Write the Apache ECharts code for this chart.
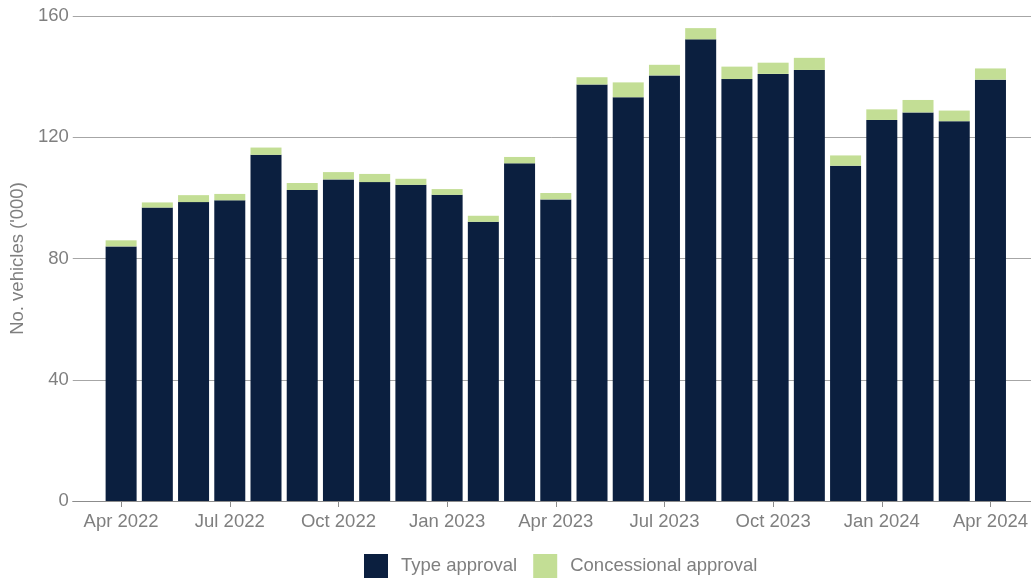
<!DOCTYPE html>
<html>
<head>
<meta charset="utf-8">
<script src="https://cdn.jsdelivr.net/npm/echarts@6/dist/echarts.min.js"></script>
<style>
html,body{margin:0;padding:0;background:#fff;}
#chart{width:1031px;height:578px;}
</style>
</head>
<body>
<div id="chart"></div>
<script>
const categories = ["Apr 2022","May 2022","Jun 2022","Jul 2022","Aug 2022","Sep 2022","Oct 2022","Nov 2022","Dec 2022",
  "Jan 2023","Feb 2023","Mar 2023","Apr 2023","May 2023","Jun 2023","Jul 2023","Aug 2023","Sep 2023","Oct 2023","Nov 2023","Dec 2023",
  "Jan 2024","Feb 2024","Mar 2024","Apr 2024"];
const typeApproval = [84.0,96.8,98.6,99.2,114.2,102.6,106.1,105.2,104.3,101.0,92.1,111.4,99.5,137.4,133.2,140.4,152.3,139.2,140.9,142.2,110.6,125.7,128.2,125.3,139.0];
const concessionalApproval = [2.0,1.7,2.3,2.1,2.4,2.3,2.4,2.7,2.0,1.9,2.0,2.1,2.1,2.4,4.9,3.5,3.7,4.1,3.7,4.0,3.4,3.5,4.1,3.5,3.7];
const yTicks = {min:0, max:160, interval:40};

const FONT = 'Liberation Sans, Arial, sans-serif';
const TXT = '#7f7f7f';
const FS = 18.5;
const chart = echarts.init(document.getElementById('chart'));
chart.setOption({
  animation:false,
  textStyle:{fontFamily:FONT},
  grid:[
    {left:68, right:0, top:16, bottom:77},
    {left:103, right:22, top:16, bottom:77}
  ],
  legend:{
    left:359, top:549,
    itemWidth:24, itemHeight:24, itemGap:16,
    icon:'rect',
    textStyle:{fontSize:FS, color:TXT, fontFamily:FONT, padding:[0,0,0,8]},
    data:['Type approval','Concessional approval']
  },
  xAxis:[
    {type:'value', gridIndex:0, min:0, max:1, axisLabel:{show:false}, axisTick:{show:false}, splitLine:{show:false},
     axisLine:{show:true, lineStyle:{color:'#8c8c8c', width:1}}},
    {type:'category', gridIndex:1, data:categories,
     axisLine:{show:false},
     axisTick:{show:true, interval:2, alignWithLabel:true, length:6, lineStyle:{color:'#8c8c8c'}},
     axisLabel:{interval:2, fontSize:FS, color:TXT, margin:11, fontFamily:FONT}}
  ],
  yAxis:[
    {type:'value', gridIndex:0, min:yTicks.min, max:yTicks.max, interval:yTicks.interval,
     name:"No. vehicles ('000)", nameLocation:'middle', nameGap:41,
     nameTextStyle:{fontSize:FS, color:TXT, fontFamily:FONT},
     axisLine:{show:false}, axisTick:{show:false},
     axisLabel:{fontSize:FS, color:TXT, margin:4, fontFamily:FONT},
     splitLine:{lineStyle:{color:'#a6a6a6', width:1}}},
    {type:'value', gridIndex:1, min:yTicks.min, max:yTicks.max, interval:yTicks.interval, show:false, splitLine:{show:false}}
  ],
  series:[
    {name:'Type approval', type:'bar', stack:'a', xAxisIndex:1, yAxisIndex:1, data:typeApproval,
     barWidth:31, itemStyle:{color:'#0b1f3f'}},
    {name:'Concessional approval', type:'bar', stack:'a', xAxisIndex:1, yAxisIndex:1, data:concessionalApproval,
     barWidth:31, itemStyle:{color:'#c3de95'}}
  ]
});
</script>
</body>
</html>
